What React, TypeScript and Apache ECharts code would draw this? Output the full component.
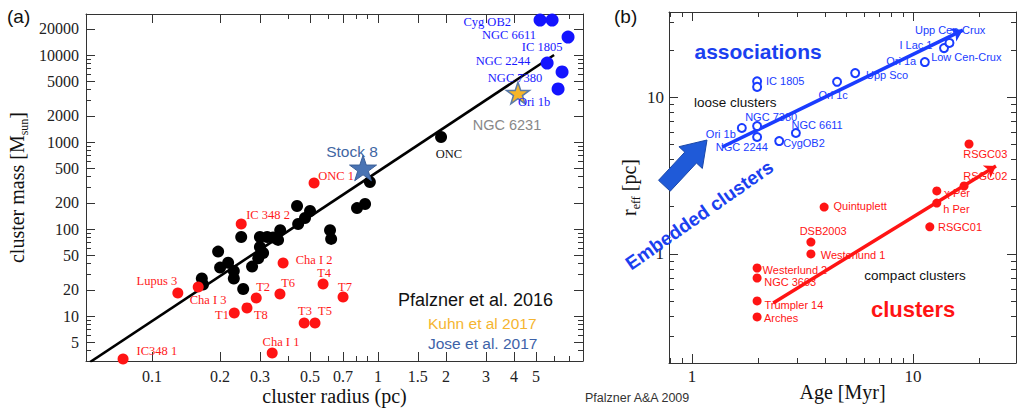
import React, { useEffect, useRef } from 'react';
import * as echarts from 'echarts';

const SERIF = "'Liberation Serif', 'DejaVu Serif', 'Times New Roman', serif";
const SANS = "'Liberation Sans', Arial, 'DejaVu Sans', sans-serif";

// ---------- Panel (a): cluster mass vs cluster radius ----------
const aXRange = [0.051, 8.07];
const aYRange = [3.04, 29600];
const aXTickLabels = [0.1, 0.2, 0.3, 0.5, 0.7, 1, 1.5, 2, 3, 4, 5];
const aXMinorTicks = [0.4, 0.6, 0.8, 0.9, 6, 7];
const aYTickLabels = [5, 10, 20, 50, 100, 200, 500, 1000, 2000, 5000, 10000, 20000];
const aYMinorTicks = [4, 6, 7, 8, 9, 30, 40, 60, 70, 80, 90, 300, 400, 600, 700, 800, 900, 3000, 4000, 6000, 7000, 8000, 9000];

// Pfalzner et al. 2016 (black) [radius pc, mass Msun]
const aBlack = [
  [0.92, 347], [0.876, 194], [0.807, 174], [0.5, 161], [0.438, 184], [0.475, 134], [0.443, 114],
  [0.369, 97], [0.361, 75], [0.613, 97], [0.62, 77], [0.3, 81], [0.323, 81], [0.343, 80],
  [0.248, 81], [0.3, 62], [0.31, 53], [0.295, 46], [0.277, 37], [0.196, 55], [0.217, 41],
  [0.2, 36], [0.23, 33], [0.23, 27], [0.166, 27], [0.168, 23], [0.253, 20.4], [1.9, 1141],
];
// red clusters [name, radius, mass]
const aRedNames = ['IC348 1', 'Lupus 3', 'Cha I 3', 'IC 348 2', 'ONC 1', 'Cha I 2', 'T4', 'T6', 'T7', 'T2', 'T8', 'T1', 'T3', 'T5', 'Cha I 1'];
const aRedR = [0.0744, 0.13, 0.16, 0.248, 0.521, 0.38, 0.571, 0.368, 0.7, 0.289, 0.263, 0.231, 0.471, 0.526, 0.34];
const aRedM = [3.2, 18.4, 21.5, 114, 338, 40.6, 23.3, 17.9, 16.5, 16.1, 12.4, 10.8, 8.3, 8.3, 3.76];
// blue (massive) clusters
const aBlueR = [5.21, 5.89, 6.93, 5.6, 6.52, 6.26];
const aBlueM = [25200, 25200, 16100, 8090, 6380, 4070];
// stars
const aKuhn = [4.16, 3660];
const aStock8 = [0.858, 502];
// fit line endpoints
const aFit = [[0.0532, 2.96], [6.01, 10000]];

// label anchors (text centres) [text, radius, mass]
const aRedLabels: [string, number, number][] = [
  ['IC 348 2', 0.326, 145], ['ONC 1', 0.652, 407], ['Cha I 2', 0.521, 44], ['T4', 0.577, 31.2],
  ['T6', 0.4, 23.9], ['T7', 0.714, 21.5], ['T2', 0.31, 21.5], ['T8', 0.303, 10.3], ['T1', 0.204, 10.3],
  ['T3', 0.475, 11.4], ['T5', 0.582, 11.4], ['Cha I 3', 0.177, 15.3], ['Lupus 3', 0.105, 25.3],
  ['IC348 1', 0.105, 3.96], ['Cha I 1', 0.372, 5.02],
];
const aBlueLabels: [string, number, number][] = [
  ['Cyg OB2', 3.04, 23950], ['NGC 6611', 3.8, 16980], ['IC 1805', 5.32, 12360],
  ['NGC 2244', 3.57, 8530], ['NGC 7380', 4.04, 5440], ['Ori 1b', 4.9, 2884],
];

// ---------- Panel (b): r_eff vs age ----------
const bXRange = [0.787, 29.2];
const bYRange = [0.202, 34.8];
const bXTickLabels = [1, 10];
const bXMinorTicks = [0.8, 0.9, 2, 3, 4, 5, 6, 7, 8, 9, 20];
const bYTickLabels = [1, 10];
const bYMinorTicks = [0.3, 0.4, 0.5, 0.6, 0.7, 0.8, 0.9, 2, 3, 4, 5, 6, 7, 8, 9, 20, 30];

// associations (open blue) [age Myr, r_eff pc]
const bBlueAge = [1.97, 1.97, 1.68, 1.97, 1.97, 2.48, 2.95, 4.53, 5.47, 11.3, 13.8, 14.6];
const bBlueR = [12.6, 11.6, 6.35, 6.53, 5.56, 5.24, 5.9, 12.5, 14.2, 16.7, 20.5, 22.1];
// compact clusters (red)
const bRedAge = [17.9, 12.8, 17.0, 12.8, 11.9, 3.96, 3.45, 3.45, 1.97, 1.97, 1.97, 1.97];
const bRedR = [5.02, 2.52, 2.71, 2.11, 1.49, 1.99, 1.19, 1.0, 0.814, 0.703, 0.502, 0.397];
// trend arrows
const bBlueArrow = [[1.37, 4.8], [16.8, 26.7]];
const bRedArrow = [[2.33, 0.487], [23.7, 3.64]];
const bBigArrow = [[0.75, 2.72], [1.169, 5.32]];

const bBlueLabels: [string, number, number][] = [
  ['IC 1805', 2.64, 12.6], ['NGC 7380', 2.28, 7.46], ['Ori 1b', 1.35, 5.81], ['NGC 2244', 1.68, 4.8],
  ['CygOB2', 3.21, 5.09], ['NGC 6611', 3.68, 6.63], ['Ori 1c', 4.35, 10.3], ['Upp Sco', 7.63, 13.8],
  ['Ori 1a', 8.83, 16.9], ['I Lac 1', 10.3, 21.4], ['Upp Cen-Crux', 14.7, 26.7], ['Low Cen-Crux', 17.4, 18.0],
];
const bRedLabels: [string, number, number][] = [
  ['RSGC03', 21.2, 4.33], ['RSGC02', 21.2, 3.14], ['χ Per', 15.8, 2.45], ['h Per', 15.7, 1.93],
  ['RSGC01', 16.3, 1.49], ['Quintuplett', 5.76, 2.02], ['DSB2003', 3.92, 1.4], ['Westerlund 1', 5.35, 0.985],
  ['Westerlund 2', 2.92, 0.791], ['NGC 3603', 2.78, 0.663], ['Trumpler 14', 2.89, 0.473], ['Arches', 2.53, 0.391],
];
const bBlackLabels: [string, number, number][] = [['loose clusters', 1.57, 9.16], ['compact clusters', 10.2, 0.724]];

const L = (v: number) => Math.log10(v);
const fmt = (v: number) => String(Number(Math.pow(10, v).toPrecision(6)));
const STAR = 'path://M50,0 L61.8,35.1 L98.9,35.1 L69.1,57 L80.2,91.9 L50,70.5 L19.8,91.9 L30.9,57 L1.1,35.1 L38.2,35.1 Z';

function axes(gridIndex: number, pos: string, range: number[], labels: number[], minor: number[], showLabels: boolean, lbl: any, name?: any) {
  const major: any = {
    type: 'value', gridIndex, position: pos, min: L(range[0]), max: L(range[1]), silent: true,
    axisLine: { show: true, onZero: false, lineStyle: { color: '#333', width: 1 } },
    splitLine: { show: false },
    axisTick: { show: true, inside: true, length: 9, customValues: labels.map(L), lineStyle: { color: '#333', width: 1 } },
    axisLabel: showLabels
      ? { show: true, customValues: labels.map(L), formatter: fmt, color: '#222', ...lbl }
      : { show: false },
  };
  if (name) Object.assign(major, { nameMoveOverlap: false }, name);
  const minorAxis: any = {
    type: 'value', gridIndex, position: pos, min: L(range[0]), max: L(range[1]), silent: true,
    axisLine: { show: false, onZero: false },
    splitLine: { show: false },
    axisTick: { show: true, inside: true, length: 5, customValues: minor.map(L), lineStyle: { color: '#333', width: 1 } },
    axisLabel: { show: false },
  };
  return [major, minorAxis];
}

function labelSeries(items: [string, number, number][], xi: number, style: any, extra: any = {}) {
  return {
    type: 'scatter', xAxisIndex: xi, yAxisIndex: xi, silent: true, z: 8, symbolSize: 1,
    itemStyle: { color: 'rgba(0,0,0,0)', opacity: 1 },
    label: { show: true, position: 'inside', formatter: '{b}', align: 'center', verticalAlign: 'middle', opacity: 1, ...style },
    data: items.map(([t, x, y]) => ({ name: t, value: [L(x), L(y)] })),
    ...extra,
  };
}

function buildOption(): any {
  const aLbl = { fontFamily: SERIF, fontSize: 16, margin: 7 };
  const bLbl = { fontFamily: SERIF, fontSize: 17, margin: 5 };
  const xAxis = [
    ...axes(0, 'bottom', aXRange, aXTickLabels, aXMinorTicks, true, aLbl, {
      name: 'cluster radius (pc)', nameLocation: 'middle', nameGap: 25,
      nameTextStyle: { fontFamily: SERIF, fontSize: 20, color: '#111' },
    }),
    ...axes(0, 'top', aXRange, aXTickLabels, aXMinorTicks, false, {}),
    ...axes(1, 'bottom', bXRange, bXTickLabels, bXMinorTicks, true, bLbl, {
      name: 'Age [Myr]', nameLocation: 'middle', nameGap: 19,
      nameTextStyle: { fontFamily: SERIF, fontSize: 20, color: '#111' },
    }),
    ...axes(1, 'top', bXRange, bXTickLabels, bXMinorTicks, false, {}),
  ];
  const yAxis = [
    ...axes(0, 'left', aYRange, aYTickLabels, aYMinorTicks, true, aLbl, {
      name: '{a|cluster mass [M}{s|sun}{a|]}', nameLocation: 'middle', nameGap: 56, nameRotate: 90,
      nameTextStyle: {
        rich: {
          a: { fontFamily: SERIF, fontSize: 20, color: '#111', lineHeight: 26 },
          s: { fontFamily: SERIF, fontSize: 12, color: '#111', lineHeight: 26, verticalAlign: 'bottom' },
        },
      },
    }),
    ...axes(0, 'right', aYRange, aYTickLabels, aYMinorTicks, false, {}),
    ...axes(1, 'left', bYRange, bYTickLabels, bYMinorTicks, true, bLbl, {
      name: '{a|r}{s|eff}{a| [pc]}', nameLocation: 'middle', nameGap: 27, nameRotate: 90,
      nameTextStyle: {
        rich: {
          a: { fontFamily: SERIF, fontSize: 20, color: '#111', lineHeight: 26 },
          s: { fontFamily: SERIF, fontSize: 12, color: '#111', lineHeight: 26, verticalAlign: 'bottom' },
        },
      },
    }),
    ...axes(1, 'right', bYRange, bYTickLabels, bYMinorTicks, false, {}),
  ];

  const series: any[] = [
    // panel a
    {
      type: 'line', xAxisIndex: 0, yAxisIndex: 0, silent: true, z: 2, showSymbol: false, symbol: 'none',
      lineStyle: { color: '#000', width: 2.6 },
      data: aFit.map(([x, y]) => [L(x), L(y)]),
    },
    {
      type: 'scatter', xAxisIndex: 0, yAxisIndex: 0, silent: true, z: 3, symbolSize: 12,
      itemStyle: { color: '#000', opacity: 1 }, data: aBlack.map(([x, y]) => [L(x), L(y)]),
    },
    {
      type: 'scatter', xAxisIndex: 0, yAxisIndex: 0, silent: true, z: 3, symbolSize: 11,
      itemStyle: { color: '#ff1414', opacity: 1 },
      data: aRedR.map((r, i) => ({ name: aRedNames[i], value: [L(r), L(aRedM[i])] })),
    },
    {
      type: 'scatter', xAxisIndex: 0, yAxisIndex: 0, silent: true, z: 3, symbolSize: 13,
      itemStyle: { color: '#1414ff', opacity: 1 }, data: aBlueR.map((r, i) => [L(r), L(aBlueM[i])]),
    },
    {
      type: 'scatter', xAxisIndex: 0, yAxisIndex: 0, silent: true, z: 4, symbol: STAR, symbolKeepAspect: true,
      symbolSize: 27, itemStyle: { color: '#4a74b4', borderColor: '#3b5f98', borderWidth: 1, opacity: 1 },
      data: [[L(aStock8[0]), L(aStock8[1])]],
    },
    {
      type: 'scatter', xAxisIndex: 0, yAxisIndex: 0, silent: true, z: 4, symbol: STAR, symbolKeepAspect: true,
      symbolSize: 23, itemStyle: { color: '#f5b52a', borderColor: '#5a7aa8', borderWidth: 1.5, opacity: 1 },
      data: [[L(aKuhn[0]), L(aKuhn[1])]],
    },
    labelSeries(aRedLabels, 0, { fontFamily: SERIF, fontSize: 12.5, color: '#ff1a1a' }),
    labelSeries(aBlueLabels, 0, { fontFamily: SERIF, fontSize: 12.5, color: '#1a1aff' }),
    labelSeries([['ONC', 2.06, 728]], 0, { fontFamily: SERIF, fontSize: 12.5, color: '#111' }),
    labelSeries([['Stock 8', 0.767, 788]], 0, { fontFamily: SANS, fontSize: 15.5, color: '#3f66a3' }),
    labelSeries([['NGC 6231', 3.72, 1568]], 0, { fontFamily: SANS, fontSize: 14.5, color: '#888' }),

    // panel b
    {
      type: 'lines', coordinateSystem: 'cartesian2d', xAxisIndex: 4, yAxisIndex: 4, silent: true, z: 3,
      symbol: ['none', 'arrow'], symbolSize: 11,
      lineStyle: { color: '#1a3cff', width: 3.5, opacity: 1, curveness: 0 },
      data: [{ coords: bBlueArrow.map(([x, y]) => [L(x), L(y)]) }],
    },
    {
      type: 'lines', coordinateSystem: 'cartesian2d', xAxisIndex: 4, yAxisIndex: 4, silent: true, z: 3,
      symbol: ['none', 'arrow'], symbolSize: 11,
      lineStyle: { color: '#ff1414', width: 3.5, opacity: 1, curveness: 0 },
      data: [{ coords: bRedArrow.map(([x, y]) => [L(x), L(y)]) }],
    },
    {
      type: 'scatter', xAxisIndex: 4, yAxisIndex: 4, silent: true, z: 4, symbol: 'emptyCircle', symbolSize: 8,
      itemStyle: { color: '#1a3cff', borderColor: '#1a3cff', borderWidth: 2, opacity: 1 },
      data: bBlueAge.map((a, i) => [L(a), L(bBlueR[i])]),
    },
    {
      type: 'scatter', xAxisIndex: 4, yAxisIndex: 4, silent: true, z: 4, symbolSize: 9,
      itemStyle: { color: '#ff1414', opacity: 1 },
      data: bRedAge.map((a, i) => [L(a), L(bRedR[i])]),
    },
    {
      type: 'custom', xAxisIndex: 4, yAxisIndex: 4, silent: true, z: 6,
      data: [[L(bBigArrow[0][0]), L(bBigArrow[0][1]), L(bBigArrow[1][0]), L(bBigArrow[1][1])]],
      encode: { x: [0, 2], y: [1, 3] },
      renderItem: (_p: any, api: any) => {
        const p0 = api.coord([api.value(0), api.value(1)]);
        const p1 = api.coord([api.value(2), api.value(3)]);
        const dx = p1[0] - p0[0], dy = p1[1] - p0[1];
        const len = Math.hypot(dx, dy) || 1;
        const ux = dx / len, uy = dy / len, nx = -uy, ny = ux;
        const hl = 24, hw = 16, sw = 8;
        const bx = p1[0] - ux * hl, by = p1[1] - uy * hl;
        const pts = [
          [p0[0] + nx * sw, p0[1] + ny * sw], [bx + nx * sw, by + ny * sw], [bx + nx * hw, by + ny * hw],
          [p1[0], p1[1]], [bx - nx * hw, by - ny * hw], [bx - nx * sw, by - ny * sw], [p0[0] - nx * sw, p0[1] - ny * sw],
        ];
        return { type: 'polygon', shape: { points: pts }, style: { fill: '#1f5ad8', stroke: '#1a47a8', lineWidth: 1 } };
      },
    },
    labelSeries(bBlueLabels, 4, { fontFamily: SANS, fontSize: 11, color: '#1a3cff' }),
    labelSeries(bRedLabels, 4, { fontFamily: SANS, fontSize: 11, color: '#ff1414' }),
    labelSeries(bBlackLabels, 4, { fontFamily: SANS, fontSize: 13.5, color: '#111' }),
    labelSeries([['associations', 1.99, 19.6]], 4, { fontFamily: SANS, fontSize: 21, fontWeight: 'bold', color: '#1a40f0' }),
    labelSeries([['clusters', 10.0, 0.446]], 4, { fontFamily: SANS, fontSize: 22, fontWeight: 'bold', color: '#ff1414' }),
    labelSeries([['Embedded clusters', 1.08, 1.77]], 4, { fontFamily: SANS, fontSize: 19, fontWeight: 'bold', color: '#1a40f0', rotate: 35 }),
  ];

  return {
    animation: false,
    backgroundColor: '#fff',
    grid: [
      { left: 86, top: 14, width: 497, height: 347, outerBoundsMode: 'none', containLabel: false },
      { left: 669, top: 12, width: 347, height: 351, outerBoundsMode: 'none', containLabel: false },
    ],
    xAxis,
    yAxis,
    series,
    graphic: [
      { type: 'text', x: 7, y: 16, style: { text: '(a)', fontFamily: SANS, fontSize: 19, fill: '#111', align: 'left', verticalAlign: 'middle' } },
      { type: 'text', x: 614, y: 16, style: { text: '(b)', fontFamily: SANS, fontSize: 19, fill: '#111', align: 'left', verticalAlign: 'middle' } },
      { type: 'text', x: 398, y: 300, style: { text: 'Pfalzner et al. 2016', fontFamily: SANS, fontSize: 18, fill: '#111', align: 'left', verticalAlign: 'middle' } },
      { type: 'text', x: 428, y: 323, style: { text: 'Kuhn et al 2017', fontFamily: SANS, fontSize: 15.5, fill: '#f5b530', align: 'left', verticalAlign: 'middle' } },
      { type: 'text', x: 428, y: 343, style: { text: 'Jose et al. 2017', fontFamily: SANS, fontSize: 15.5, fill: '#3d62a8', align: 'left', verticalAlign: 'middle' } },
      { type: 'text', x: 585, y: 398, style: { text: 'Pfalzner A&A 2009', fontFamily: SANS, fontSize: 12.5, fill: '#333', align: 'left', verticalAlign: 'middle' } },
    ],
  };
}

export default function App() {
  const ref = useRef<HTMLDivElement>(null);
  useEffect(() => {
    if (!ref.current) return;
    const chart = echarts.init(ref.current, null, { renderer: 'svg' });
    chart.setOption(buildOption());
    return () => chart.dispose();
  }, []);
  return <div ref={ref} style={{ position: 'fixed', left: 0, top: 0, width: 1017, height: 410, background: '#fff' }} />;
}
